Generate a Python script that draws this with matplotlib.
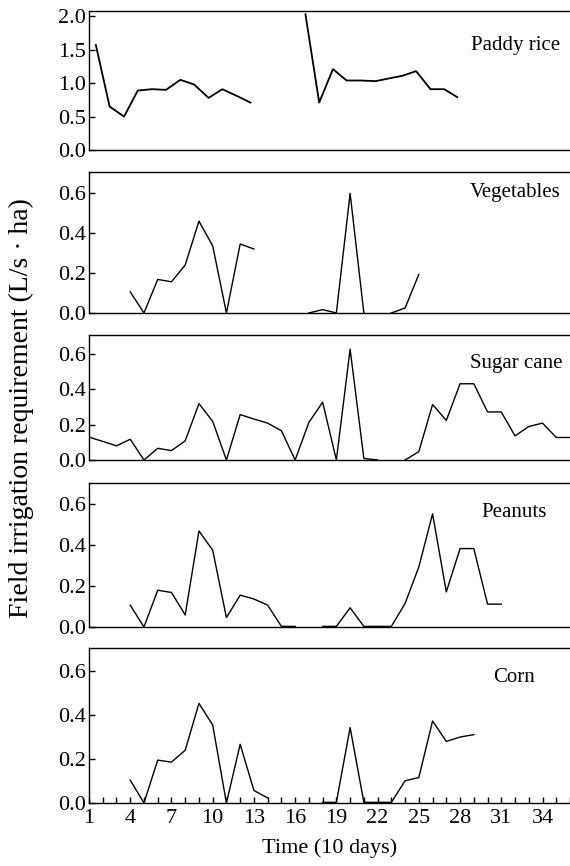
import numpy as np
import matplotlib.pyplot as plt

plt.rcParams["font.family"] = ["Liberation Serif", "DejaVu Serif"]

nan = np.nan
dekad = np.arange(1, 37)

# paddy rice is drawn as two separate seasons
paddy_x1 = [1.5, 2.5, 3.55, 4.55, 5.6, 6.6, 7.65, 8.65, 9.7, 10.7, 11.75, 12.75]
paddy_y1 = [1.57, 0.65, 0.50, 0.89, 0.91, 0.90, 1.05, 0.98, 0.78, 0.91, 0.81, 0.71]
paddy_x2 = [16.75, 17.75, 18.75, 19.75, 20.8, 21.85, 22.8, 23.8, 24.8, 25.85, 26.85, 27.8]
paddy_y2 = [2.03, 0.71, 1.21, 1.04, 1.04, 1.03, 1.07, 1.11, 1.18, 0.91, 0.91, 0.79]

vegetables = [nan, nan, nan, 0.106, 0.0, 0.168, 0.156, 0.24, 0.459, 0.336,
              0.0, 0.345, 0.32, nan, nan, nan, 0.0, 0.017, 0.0, 0.598,
              0.0, nan, 0.0, 0.025, 0.193, nan, nan, nan, nan, nan,
              nan, nan, nan, nan, nan, nan]

sugar_cane = [0.129, 0.105, 0.08, 0.117, 0.0, 0.066, 0.053, 0.108, 0.318, 0.218,
              0.0, 0.256, 0.231, 0.208, 0.165, 0.0, 0.212, 0.326, 0.0, 0.625,
              0.009, 0.0, nan, 0.0, 0.047, 0.313, 0.223, 0.43, 0.43, 0.271,
              0.271, 0.136, 0.189, 0.208, 0.127, 0.127]

peanuts = [nan, nan, nan, 0.107, 0.0, 0.18, 0.169, 0.059, 0.47, 0.376,
           0.046, 0.156, 0.137, 0.107, 0.003, 0.003, nan, 0.003, 0.003, 0.094,
           0.003, 0.003, 0.003, 0.115, 0.294, 0.554, 0.172, 0.384, 0.384, 0.112,
           0.112, nan, nan, nan, nan, nan]

corn = [nan, nan, nan, 0.104, 0.0, 0.195, 0.186, 0.24, 0.453, 0.355,
        0.0, 0.267, 0.057, 0.023, nan, nan, nan, 0.003, 0.003, 0.343,
        0.003, 0.003, 0.003, 0.101, 0.116, 0.373, 0.28, 0.30, 0.311, nan,
        nan, nan, nan, nan, nan, nan]

crop_names = ["Paddy rice", "Vegetables", "Sugar cane", "Peanuts", "Corn"]
x_tick_labels = [1, 4, 7, 10, 13, 16, 19, 22, 25, 28, 31, 34]

# panel boxes in pixels (top, bottom)
W, H = 570, 866
boxes = [(11, 150), (172, 313), (335, 460), (483, 627), (648, 803)]
left_px = 89
label_pos = [(0.98, 1.56), (0.98, 0.60), (0.985, 0.545), (0.952, 0.56), (0.927, 0.57)]

fig = plt.figure(figsize=(W / 100, H / 100), dpi=100)
axes = []
for top, bot in boxes:
    ax = fig.add_axes([left_px / W, 1 - bot / H, 1 - left_px / W, (bot - top) / H])
    axes.append(ax)

series = [None, vegetables, sugar_cane, peanuts, corn]
for i, ax in enumerate(axes):
    if i == 0:
        ax.plot(paddy_x1, paddy_y1, color="black", lw=1.3)
        ax.plot(paddy_x2, paddy_y2, color="black", lw=1.3)
        ax.set_ylim(0, 2.08)
        ax.set_yticks([0.0, 0.5, 1.0, 1.5, 2.0])
    else:
        ax.plot(dekad, series[i], color="black", lw=1.0)
        ax.set_ylim(0, 0.705)
        ax.set_yticks([0.0, 0.2, 0.4, 0.6])
    ax.set_xlim(1, 36)
    ax.yaxis.set_major_formatter(plt.FormatStrFormatter("%.1f"))
    ax.spines["right"].set_visible(False)
    for s in ["left", "top", "bottom"]:
        ax.spines[s].set_linewidth(1.0)
    ax.tick_params(axis="y", direction="in", length=4, width=1, labelsize=16, pad=2)
    tx, ty = label_pos[i]
    ax.text(tx, ty, crop_names[i], transform=ax.get_yaxis_transform(),
            ha="right", va="center", fontsize=15)
    if i < 4:
        ax.set_xticks([])
    else:
        ax.set_xticks(x_tick_labels)
        ax.set_xticks(dekad, minor=True)
        ax.tick_params(axis="x", which="both", direction="in", length=4, width=1,
                       labelsize=16, pad=4)

axes[-1].set_xlabel("Time (10 days)", fontsize=16, labelpad=8)
fig.text(21 / W, 1 - 408 / H, "Field irrigation requirement (L/s \u00b7 ha)",
         rotation=90, ha="center", va="center", fontsize=20)

fig.savefig("out.png", dpi=100)
